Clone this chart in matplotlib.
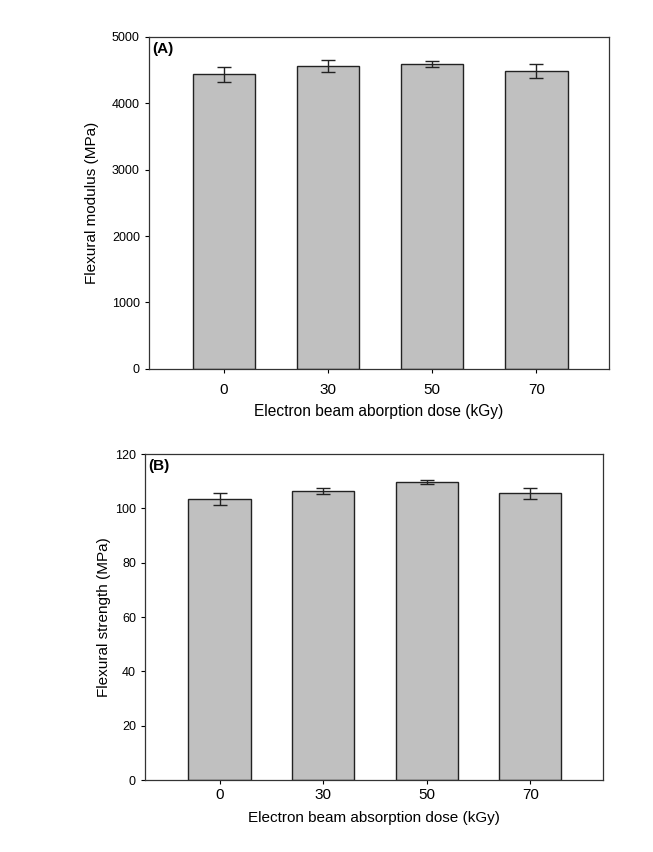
import matplotlib
matplotlib.use("Agg")
import matplotlib.pyplot as plt
import numpy as np

plt.rcParams['font.family'] = ['Liberation Sans', 'DejaVu Sans']

doses = ["0", "30", "50", "70"]
modulus = [4432, 4563, 4589, 4483]
modulus_err = [113, 88, 42, 102]
strength = [103.5, 106.4, 109.7, 105.5]
strength_err = [2.1, 1.0, 0.8, 2.1]

fig = plt.figure(figsize=(6.53, 8.52), dpi=100)
axA = fig.add_axes([0.228, 0.567, 0.705, 0.390])
axB = fig.add_axes([0.222, 0.0845, 0.701, 0.3825])

bar_color = "#c0c0c0"
x = np.arange(len(doses))

def style(ax, vals, errs, ylim, yticks, ylabel, xlabel, tag, xpad, xlabelpad, ylabelpad, xlfs):
    ax.bar(x, vals, width=0.6, color=bar_color, edgecolor="#222222", linewidth=1.0)
    ax.errorbar(x, vals, yerr=errs, fmt="none", ecolor="#222222", elinewidth=1.0,
                capsize=5, capthick=1.0)
    ax.set_xlim(-0.72, 3.7)
    ax.set_ylim(*ylim)
    ax.set_yticks(yticks)
    ax.set_xticks(x)
    ax.set_xticklabels(doses, fontsize=11)
    ax.tick_params(axis="y", labelsize=9, length=3, direction="out", width=0.8)
    ax.tick_params(axis="x", length=3, direction="out", width=0.8, pad=xpad)
    for s in ax.spines.values():
        s.set_linewidth(0.9)
        s.set_color("#333333")
    ax.set_ylabel(ylabel, fontsize=11, labelpad=ylabelpad)
    ax.set_xlabel(xlabel, fontsize=xlfs, labelpad=xlabelpad)
    ax.text(0.008, 0.985, tag, transform=ax.transAxes, fontsize=11, fontweight="bold",
            va="top", ha="left")

style(axA, modulus, modulus_err, (0, 5000), [0, 1000, 2000, 3000, 4000, 5000],
      "Flexural modulus (MPa)", "Electron beam aborption dose (kGy)", "(A)",
      xpad=7, xlabelpad=5, ylabelpad=9, xlfs=11.2)
style(axB, strength, strength_err, (0, 120), [0, 20, 40, 60, 80, 100, 120],
      "Flexural strength (MPa)", "Electron beam absorption dose (kGy)", "(B)",
      xpad=3, xlabelpad=6, ylabelpad=3, xlfs=11)

fig.savefig("out.png", dpi=100)
